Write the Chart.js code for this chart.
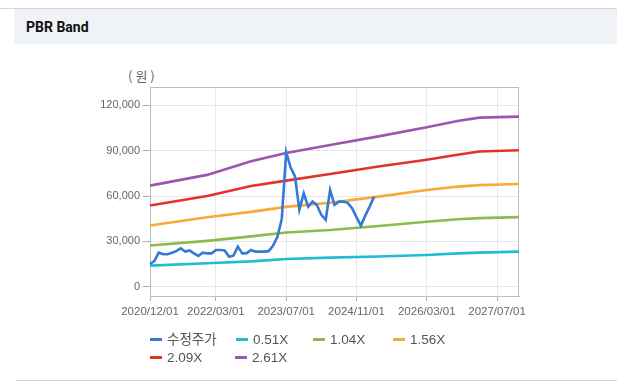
<!DOCTYPE html>
<html>
<head>
<meta charset="utf-8">
<script src="https://cdn.jsdelivr.net/npm/chart.js"></script>
<style>
  body { margin: 0; background: #fff; width: 617px; height: 385px; overflow: hidden; position: relative; font-family: "Liberation Sans", "Noto Sans CJK KR", sans-serif; }
  #topline { position: absolute; left: 0; top: 8px; width: 617px; height: 1px; background: #d6d6d6; }
  #head { position: absolute; left: 14px; top: 9px; width: 603px; height: 35px; background: #eff2f7; }
  #head span { position: absolute; left: 12px; top: 10px; font: bold 14px Roboto, sans-serif; color: #111; }
  #botline { position: absolute; left: 16px; top: 380px; width: 601px; height: 1px; background: #d6d6d6; }
  #unit { position: absolute; left: 128px; top: 66px; font-size: 13px; color: #666; letter-spacing: 3px; font-family: "Noto Sans CJK KR", sans-serif; }
  #c { position: absolute; left: 0; top: 0; }
  .lg { position: absolute; font-size: 13.5px; color: #555; white-space: nowrap; line-height: 16px; }
  .lg i { display: inline-block; width: 12px; height: 3px; vertical-align: middle; margin-right: 5px; position: relative; top: -1px; }
</style>
</head>
<body>
<div id="topline"></div>
<div id="head"><span>PBR Band</span></div>
<div id="unit">(원)</div>
<canvas id="c" width="617" height="385"></canvas>
<div id="legend"></div>
<div id="botline"></div>
<script>
// 월별 라벨 2020/12 ~ 2027/12
const startYear = 2020, startMonth = 12, monthCount = 85;
const labels = [];
for (let i = 0; i < monthCount; i++) {
  let m = startMonth - 1 + i;
  let y = startYear + Math.floor(m / 12);
  let mm = (m % 12) + 1;
  labels.push(y + "/" + (mm < 10 ? "0" + mm : mm) + "/01");
}

// 표시되는 x축 눈금 (라벨 인덱스)
const xTickIdx = [0, 15, 31, 47, 63, 79];
const yTicks = [0, 30000, 60000, 90000, 120000];

// 수정주가 (월별)
const price = [15000, 17000, 22500, 21400, 21400, 22500, 23500, 25400, 23200, 24000,
  22000, 20300, 22500, 22000, 22000, 24300, 24300, 24000, 19800, 20500,
  26500, 22000, 22200, 24300, 23200, 23200, 23200, 23500, 27000, 33000,
  45000, 89000, 79000, 73000, 51000, 61800, 53000, 56300, 54000, 47500,
  44200, 64000, 54100, 56300, 56300, 55500, 52000, 46000, 40400, 47000,
  53000, 59600];

// 밴드 값 (읽은 지점만)
const bandIdx = [0, 13, 23, 31, 41, 52, 63, 70, 75, 84];
const band051 = [13900, 15500, 16700, 18300, 19200, 20000, 21000, 22000, 22500, 23200];
const band104 = [27200, 30300, 33300, 35800, 37500, 40200, 43000, 44600, 45400, 46000];
const band156 = [40500, 45900, 49500, 52800, 55500, 59600, 64000, 66200, 67200, 68000];
const band209 = [53700, 60000, 66700, 70200, 74600, 79500, 84000, 87300, 89500, 90300];
const band261 = [66900, 74000, 83000, 88500, 93800, 99500, 105500, 109700, 111900, 112600];

const seriesNames = ["수정주가", "0.51X", "1.04X", "1.56X", "2.09X", "2.61X"];
const colors = ["#3479d6", "#1ebdd3", "#8dbb4b", "#f9a93a", "#e4322b", "#9b56b0"];

function toPoints(vals) {
  return bandIdx.map(function (k, j) { return { x: labels[k], y: vals[j] }; });
}

const allData = [price, toPoints(band051), toPoints(band104), toPoints(band156), toPoints(band209), toPoints(band261)];

var datasets = [];
for (var i = 0; i < seriesNames.length; i++) {
  datasets.push({
    label: seriesNames[i],
    data: allData[i],
    borderColor: colors[i],
    backgroundColor: colors[i],
    borderWidth: 2.6,
    pointRadius: 0,
    tension: 0,
    fill: false
  });
}

// 위/오른쪽 테두리
const frame = {
  id: "frame",
  beforeDatasetsDraw(chart) {
    const a = chart.chartArea, ctx = chart.ctx;
    ctx.save();
    ctx.strokeStyle = "#bdbdbd";
    ctx.lineWidth = 1;
    ctx.strokeRect(Math.round(a.left) + 0.5, Math.round(a.top) + 0.5,
      Math.round(a.right - a.left) - 1, Math.round(a.bottom - a.top));
    ctx.restore();
  }
};

const chart = new Chart(document.getElementById("c"), {
  type: "line",
  data: { labels: labels, datasets: datasets },
  options: {
    responsive: false,
    animation: false,
    devicePixelRatio: 1,
    layout: { padding: { top: 87, right: 98, left: 0, bottom: 0 } },
    plugins: { legend: { display: false }, tooltip: { enabled: false } },
    scales: {
      x: {
        type: "category",
        afterFit(s) { s.height = 89; },
        afterBuildTicks(s) { s.ticks = xTickIdx.map(function (v) { return { value: v }; }); },
        grid: { color: "#e6e6ec", tickColor: "#b0b0b0", tickLength: 5 },
        border: { color: "#b0b0b0" },
        ticks: { autoSkip: false, maxRotation: 0, padding: 4, color: "#666", font: { family: "Liberation Sans", size: 11.5 } }
      },
      y: {
        min: -6200,
        max: 132200,
        afterFit(s) { s.width = 150; },
        afterBuildTicks(s) { s.ticks = yTicks.map(function (v) { return { value: v }; }); },
        grid: { color: "#e6e6ec", tickColor: "#b0b0b0", tickLength: 7 },
        border: { color: "#b0b0b0" },
        ticks: {
          padding: 3,
          color: "#666",
          font: { family: "Liberation Sans", size: 11 },
          callback: function (v) { return Number(v).toLocaleString("en-US"); }
        }
      }
    }
  },
  plugins: [frame]
});

// 범례 (데이터셋에서 생성)
const legendPos = [[150, 332], [236, 332], [313, 332], [393, 332], [150, 350], [235, 350]];
var lg = document.getElementById("legend");
chart.data.datasets.forEach(function (ds, k) {
  var d = document.createElement("div");
  d.className = "lg";
  d.style.left = legendPos[k][0] + "px";
  d.style.top = legendPos[k][1] + "px";
  d.innerHTML = '<i style="background:' + ds.borderColor + '"></i>' + ds.label;
  lg.appendChild(d);
});
</script>
</body>
</html>
